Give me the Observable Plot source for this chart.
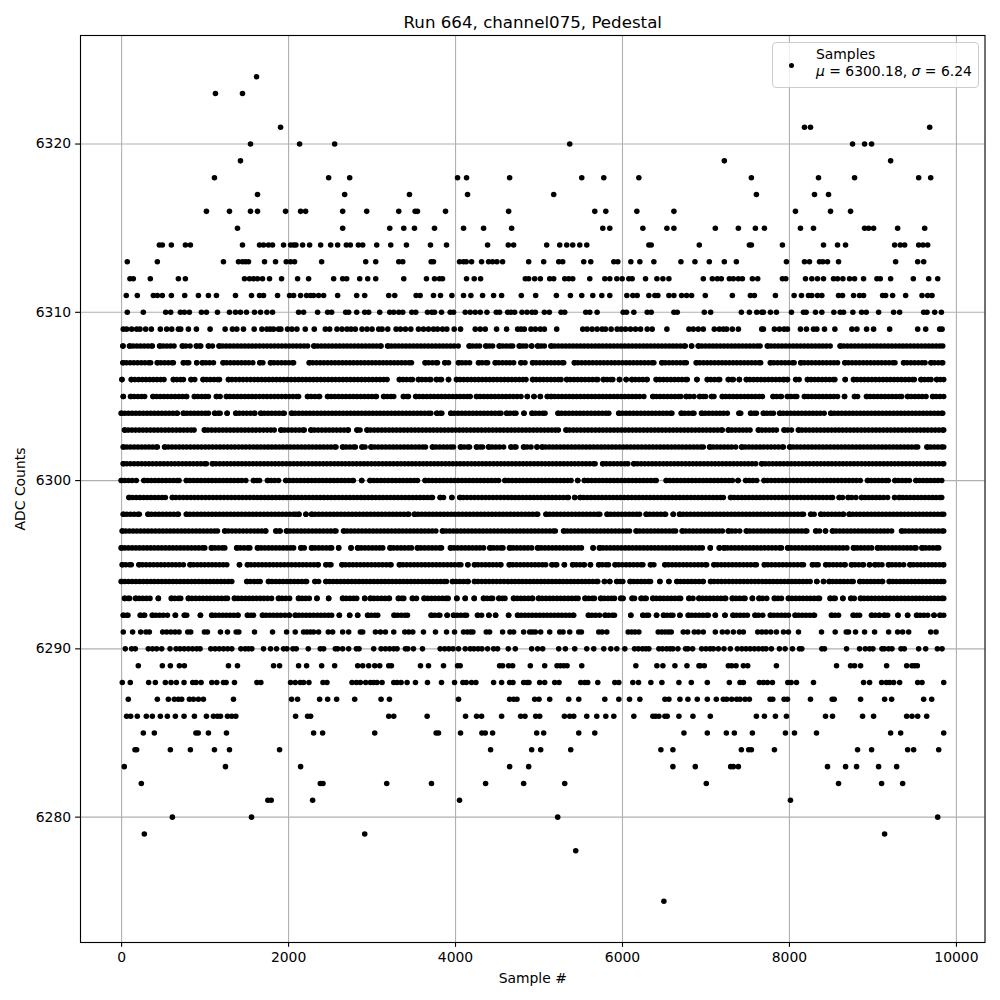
<!DOCTYPE html>
<html><head><meta charset="utf-8">
<script src="https://cdn.jsdelivr.net/npm/d3@7"></script>
<script src="https://cdn.jsdelivr.net/npm/@observablehq/plot@0.6"></script>
<style>
html,body{margin:0;padding:0;background:#fff}
#wrap{position:relative;width:1000px;height:1000px;font-family:"DejaVu Sans",sans-serif}
#legend{position:absolute;left:772px;top:42px;width:205px;height:44px;background:rgba(255,255,255,.8);border:1px solid #ccc;border-radius:4px;font-size:13.9px;color:#000;line-height:17px}
#legend .m{position:absolute;left:15.5px;top:19.5px;width:5.6px;height:5.6px;border-radius:50%;background:#000}
#legend .t{position:absolute;left:43px;top:3px;white-space:pre}
</style></head><body><div id="wrap"><div id="chart"></div>
<div id="legend"><span class="m"></span><div class="t">Samples
<i>μ</i> = 6300.18, <i>σ</i> = 6.24</div></div></div>
<script>
const chartTitle="Run 664, channel075, Pedestal";
const xLabel="Sample #";
const yLabel="ADC Counts";
const xTicks=[0,2000,4000,6000,8000,10000];
const yTicks=[6280,6290,6300,6310,6320];

// Isolated samples on the sparse ADC levels
const s6324=[1616];
const s6323=[1124,1448];
const s6321=[1904,8180,8252,9680];
const s6320=[1544,2132,2552,5368,8756,8900,8984];
const s6319=[1424,7220,9212];
const s6318=[1112,2480,2732,4024,4132,4648,5512,5776,6196,7544,8348,8780,9548,9692];
const s6317=[1628,2672,3448,4144,5176,7604,8300,8468];
const s6316=[1016,1292,1544,1628,1964,2144,2204,2648,2936,3320,3516,3544,3880,4636,5668,5800,6172,6616,8072,8492,8732];
const s6315=[1388,2648,3212,3380,3508,3748,4096,4336,4672,5764,5848,6244,6532,6616,7112,7388,7592,7700,8132,8288,8900,8948,9008,9296,9620];
const s6314=[452,488,596,764,824,1448,1652,1700,1760,1808,1940,2024,2060,2088,2168,2252,2384,2504,2588,2692,2740,2836,2888,3056,3224,3412,3700,3892,4384,4632,4696,5092,5248,5332,5404,5488,5572,6316,6344,6920,7520,7544,7916,8408,8576,8672,9260,9328,9380,9548,9600,9656];
const s6313=[68,428,1220,1400,1448,1484,1520,1712,1844,1972,2024,2072,2396,2924,3044,3320,3368,3708,3736,4048,4096,4128,4192,4312,4396,4444,4496,4564,4876,5056,5236,5284,5536,5620,5896,5944,6100,6208,6376,6700,6868,7040,7220,7364,7964,8180,8240,8360,8400,8456,8588,9272,9536,9608];
const s6312=[100,140,344,680,764,1472,1532,1580,1628,1688,1772,1916,2108,2240,2540,2648,2696,2852,2948,3044,3380,3652,3748,3808,3844,4132,4224,4300,4836,4876,4948,5016,5128,5176,5308,5356,5404,5608,5788,5848,5932,5996,6076,6116,6276,6412,6484,6556,6968,7076,7136,7184,7280,7328,7388,7436,7556,7620,7916,7956,8192,8268,8336,8408,8528,8576,8640,8720,8780,8888,9048,9088,9212,9484,9668,9776];
const s6311=[56,188,380,428,488,596,756,920,1040,1136,1364,1556,1652,1700,1868,2012,2060,2144,2216,2264,2300,2360,2420,2588,2816,2912,3200,3272,3528,3576,3736,3820,3956,4096,4184,4324,4456,4552,4788,4960,5208,5376,5512,5644,5752,5848,6052,6124,6176,6316,6388,6424,6556,6616,6708,6768,6828,6992,7316,7532,7580,7832,8056,8144,8228,8268,8336,8388,8588,8636,8768,8840,8888,9116,9152,9236,9392,9588,9656,9708];
const s6310=[68,260,528,588,704,752,812,956,1016,1148,1292,1364,1424,1496,1592,1664,1740,1808,2120,2180,2348,2468,2516,2684,2720,2816,2912,2960,3092,3212,3260,3320,3368,3476,3524,3664,3716,3748,3832,3936,3976,4116,4176,4236,4296,4376,4488,4528,4624,4664,4708,4796,4856,4916,4956,5064,5124,5264,5308,5560,5608,5696,6008,6048,6136,6296,6344,6616,6656,6980,7056,7424,7520,7608,7668,7688,7772,7844,8024,8168,8200,8312,8388,8532,8608,8648,8760,8864,8920,9068,9248,9320,9608,9648,9740,9820];
const s6309=[20,60,120,180,220,288,356,464,540,600,680,708,800,896,1060,1240,1328,1380,1460,1588,1680,1740,1780,1820,1880,1908,1988,2040,2100,2200,2308,2440,2492,2580,2640,2700,2748,2800,2880,2940,3000,3080,3120,3188,3288,3340,3400,3464,3556,3616,3676,3736,3784,3844,3896,3984,4060,4236,4296,4356,4492,4612,4744,4784,4824,4904,4956,5016,5064,5212,5524,5576,5636,5696,5756,5796,5864,5936,5984,6036,6096,6156,6216,6296,6356,6532,6796,6848,6908,6968,7100,7160,7208,7248,7316,7388,7668,7688,7820,7880,7936,7976,8132,8204,8288,8328,8420,8544,8748,8808,8924,9008,9200,9536,9632,9800,9828];
const s6291=[20,132,228,292,332,492,540,590,640,688,792,828,992,1028,1184,1268,1372,1404,1592,1808,1976,2080,2180,2220,2260,2300,2360,2476,2528,2648,2720,2860,2888,3040,3100,3160,3260,3392,3440,3488,3616,3760,3892,3988,4096,4140,4180,4208,4368,4408,4564,4652,4696,4816,4888,4920,4956,5020,5128,5248,5288,5368,5476,5508,5716,5756,5812,6068,6110,6150,6196,6428,6470,6510,6550,6584,6728,6780,6860,6908,6968,7112,7196,7256,7328,7400,7448,7620,7670,7720,7776,7844,7928,7988,8108,8384,8548,8680,8708,8792,8900,9020,9188,9296,9356,9428,9692,9756];
const s6290=[44,120,164,320,370,420,480,580,652,700,750,800,850,900,940,1068,1120,1170,1220,1270,1320,1428,1480,1520,1560,1700,1784,1856,1940,1980,2052,2092,2236,2380,2420,2560,2588,2648,2720,2812,2844,3020,3108,3160,3210,3260,3300,3400,3428,3496,3604,3816,3870,3920,3970,4036,4116,4176,4220,4270,4316,4384,4456,4504,4632,4716,4912,4984,5044,5236,5316,5428,5572,5656,5776,5860,5932,6028,6144,6190,6240,6280,6316,6436,6480,6530,6570,6604,6664,6756,6784,6840,6948,7000,7050,7088,7148,7216,7292,7376,7430,7480,7530,7580,7630,7680,7720,7784,7880,7948,8036,8120,8148,8388,8420,8684,8840,8908,8960,9000,9108,9136,9188,9228,9336,9376,9548,9632,9772,9828];
const s6289=[200,488,584,692,752,1280,1388,1820,1892,2120,2216,2396,2552,2828,2888,2960,3032,3092,3200,3232,3580,3676,3856,4024,4056,4528,4564,4636,4684,4896,5068,5216,5256,5296,5336,5512,6160,6412,6484,6628,6772,6916,6932,6980,7268,7308,7360,7448,7500,7844,8564,8732,8780,8852,9164,9404,9468,9500,9532];
const s6288=[8,104,324,404,524,592,656,748,852,892,952,1080,1140,1220,1252,1352,1620,1668,2024,2080,2140,2180,2244,2412,2460,2760,2812,2860,2924,2980,3020,3060,3120,3260,3300,3348,3420,3520,3664,3832,3988,4088,4128,4192,4244,4456,4552,4648,4688,4816,4856,4880,5008,5068,5188,5240,5500,5548,5584,5704,5908,5956,6124,6192,6340,6472,6676,6824,7016,7280,7408,7448,7640,7688,7736,7796,7980,8020,8084,8288,8888,8960,9104,9160,9200,9248,9320,9536,9588,9848];
const s6287=[80,428,560,632,680,720,812,860,920,980,1340,2036,2108,2372,2468,2576,2792,3108,3208,4036,4648,4696,4736,4948,5000,5128,5356,5476,5788,5956,6084,6208,6508,6556,6688,6784,6896,7016,7124,7208,7248,7308,7368,7408,7468,7520,7768,7800,7936,7976,8252,8512,8536,8852,9140,9224,9608,9704];
const s6286=[60,108,188,296,368,464,548,644,748,872,1016,1100,1148,1184,1268,1320,1368,2084,2228,2264,3200,3260,3660,4120,4252,4312,4552,4780,4832,4960,5008,5304,5368,5416,5572,5692,5800,5896,6136,6364,6396,6436,6508,6536,6676,6844,7052,7604,7700,7832,7964,8432,8516,8876,9008,9404,9468,9536,9644];
const s6285=[260,392,890,918,1040,1256,2300,2408,3032,3768,3796,4060,4316,4356,4444,4972,5056,5476,5668,6736,7016,7244,7340,7556,7952,8060,8324,9212,9332,9848];
const s6284=[160,180,584,824,1112,1292,1892,4420,4912,5020,5380,6460,6604,7424,7512,7544,7820,8816,8984,9416,9488,9788];
const s6283=[32,1244,2144,4648,4876,6604,6872,7296,7328,7388,8456,8672,8804,9068,9284];
const s6282=[236,2380,2412,3176,3712,4360,4816,5308,7004,8588,9104,9356];
const s6281=[1752,1792,2288,4048,8012];
const s6280=[608,1556,5224,9776];
const s6279=[272,2912,9140];
const s6278=[5440];
const s6275=[6496];

// Stretches of the dense ADC levels where the samples merge into a band: [first, last]
const r6308=[[16,16],[100,368],[460,628],[732,820],[900,948],[1044,1088],[1172,2228],[2308,3108],[3192,4032],[4168,4288],[4368,4444],[4528,4684],[4768,4844],[4912,4912],[4988,5064],[5148,6752],[6828,6828],[6912,7648],[7740,8488],[8612,9836]];
const r6307=[[20,348],[432,620],[744,804],[900,900],[972,1100],[1220,1572],[1660,1692],[1788,2060],[2252,3472],[3640,3784],[3876,3916],[4040,4168],[4280,4384],[4480,4696],[4788,4832],[4928,5296],[5428,6376],[6476,6764],[6888,7656],[7776,8056],[8140,8576],[8668,9264],[9372,9624],[9700,9836]];
const r6306=[[4,4],[120,508],[624,740],[836,876],[980,1172],[1284,3180],[3332,3484],[3560,3704],[3776,3832],[3916,3916],[4016,4844],[4928,5264],[5336,5704],[5776,5884],[5964,5964],[6044,6044],[6116,6296],[6408,6776],[6892,6892],[7020,7164],[7272,7328],[7400,7400],[7488,7936],[7976,7976],[8080,8116],[8220,8544],[8668,8668],[8772,9496],[9580,9696],[9768,9848]];
const r6305=[[20,20],[112,276],[380,780],[876,1040],[1140,1180],[1260,2120],[2232,2372],[2472,3052],[3144,3260],[3380,3436],[3528,4176],[4256,4784],[4860,4860],[4940,4940],[5016,5016],[5100,5100],[5148,6256],[6368,6700],[6768,6856],[6928,6996],[7072,7096],[7200,7676],[7808,7904],[7980,8088],[8184,8576],[8660,8660],[8784,8816],[8928,9344],[9420,9636],[9720,9848]];
const r6304=[[0,668],[744,1040],[1120,1180],[1264,1264],[1372,1596],[1672,1948],[2040,3704],[3780,3836],[3948,4544],[4616,4724],[4820,4820],[4920,5072],[5232,5836],[5960,6592],[6708,6856],[6952,7256],[7400,7416],[7540,7604],[7692,7808],[7888,8416],[8500,9836]];
const r6303=[[40,868],[996,1828],[1912,2188],[2272,2716],[2824,2856],[2944,5232],[5328,7196],[7272,7528],[7632,7844],[7940,8024],[8112,9848]];
const r6302=[[24,428],[520,2568],[2652,2800],[2884,2916],[2992,3640],[3728,3976],[4064,4168],[4256,4324],[4400,4576],[4668,4724],[4820,4904],[4976,4976],[5040,6968],[7048,7356],[7432,7928],[8008,9536],[9652,9848]];
const r6301=[[24,1016],[1092,5672],[5768,6064],[6140,7596],[7672,9848]];
const r6300=[[0,176],[272,688],[780,1488],[1584,1652],[1752,1880],[1972,2776],[2876,2876],[2980,3544],[3640,4516],[4596,5384],[5464,5464],[5548,6404],[6528,7316],[7384,7384],[7480,7608],[7700,8848],[8940,9184],[9268,9436],[9520,9824]];
const r6299=[[92,524],[612,3724],[3820,3856],[3956,3956],[4056,5352],[5428,5428],[5496,7208],[7300,8516],[8600,8636],[8708,8796],[8868,9176],[9260,9260],[9320,9824]];
const r6298=[[24,212],[320,680],[780,2088],[2124,2124],[2208,2208],[2280,3440],[3512,4984],[5088,5728],[5820,6204],[6288,6516],[6608,6608],[6688,8168],[8260,8296],[8380,8648],[8720,9848]];
const r6297=[[12,1148],[1240,1728],[1852,1900],[1980,2568],[2664,3764],[3848,5196],[5300,6084],[6168,6636],[6720,7196],[7272,7404],[7488,8208],[8320,8360],[8432,8432],[8520,9224],[9348,9848]];
const r6296=[[0,996],[1080,1236],[1384,1536],[1632,2060],[2152,2188],[2280,2516],[2600,2600],[2748,2748],[2832,3128],[3220,3472],[3548,3832],[3944,4336],[4416,4568],[4652,4912],[4988,5508],[5648,5648],[5728,6956],[7052,7052],[7160,7160],[7220,7904],[7984,8688],[8772,8984],[9060,9516],[9592,9788]];
const r6295=[[12,116],[212,740],[824,1260],[1412,1412],[1512,2356],[2452,2508],[2644,3228],[3332,4064],[4148,4148],[4232,4544],[4648,5080],[5160,5212],[5304,5304],[5408,5544],[5616,5616],[5720,5832],[5916,6244],[6340,6376],[6512,7008],[7100,7604],[7704,8168],[8280,8344],[8440,8668],[8748,8888],[8960,8960],[9028,9108],[9192,9368],[9448,9848]];
const r6294=[[0,1320],[1504,1660],[1764,2216],[2320,2360],[2452,3892],[3968,4152],[4232,5704],[5784,5784],[5848,5848],[5936,6004],[6096,6336],[6448,6448],[6556,6556],[6656,6968],[7060,8248],[8328,8328],[8408,8408],[8480,8764],[8848,9116],[9200,9848]];
const r6293=[[40,96],[172,340],[440,440],[600,708],[804,1268],[1356,1796],[1884,2012],[2124,2248],[2340,2340],[2480,2480],[2652,2816],[2912,2912],[2984,3208],[3320,3380],[3488,3532],[3628,3912],[4016,4016],[4116,4116],[4224,4224],[4340,4444],[4524,4592],[4700,4924],[5000,5468],[5556,5664],[5744,5904],[5984,6008],[6120,6144],[6228,6284],[6368,6696],[6800,6844],[6920,7236],[7320,7468],[7556,7556],[7640,7728],[7824,7904],[7992,8360],[8492,8548],[8640,8640],[8740,8776],[8856,9848]];
const r6292=[[24,76],[228,276],[372,548],[644,644],[756,780],[944,944],[1084,1396],[1512,1580],[1692,1956],[2008,2008],[2084,2516],[2608,2608],[2732,2732],[2828,2828],[2952,3068],[3268,3424],[3712,3812],[3900,3900],[3980,4132],[4268,4312],[4400,4400],[4480,4480],[4636,4636],[4748,5416],[5596,5724],[5796,5904],[6100,6100],[6248,6312],[6408,6408],[6496,6604],[6688,6688],[6792,7028],[7112,7112],[7228,7228],[7328,7496],[7592,7680],[7776,7988],[8072,8300],[8508,8588],[8768,8840],[8988,9028],[9076,9076],[9140,9176],[9300,9300],[9416,9416],[9528,9656],[9732,9732],[9808,9848]];

const sampleRows=[[6324,s6324],[6323,s6323],[6321,s6321],[6320,s6320],[6319,s6319],[6318,s6318],[6317,s6317],[6316,s6316],[6315,s6315],[6314,s6314],[6313,s6313],[6312,s6312],[6311,s6311],[6310,s6310],[6309,s6309],[6291,s6291],[6290,s6290],[6289,s6289],[6288,s6288],[6287,s6287],[6286,s6286],[6285,s6285],[6284,s6284],[6283,s6283],[6282,s6282],[6281,s6281],[6280,s6280],[6279,s6279],[6278,s6278],[6275,s6275]];
const runRows=[[6308,r6308],[6307,r6307],[6306,r6306],[6305,r6305],[6304,r6304],[6303,r6303],[6302,r6302],[6301,r6301],[6300,r6300],[6299,r6299],[6298,r6298],[6297,r6297],[6296,r6296],[6295,r6295],[6294,r6294],[6293,r6293],[6292,r6292]];

const allRuns=runRows.flatMap(([adc,rs])=>rs.map(([first,last])=>({first,last,adc})));
const runs=allRuns.filter(d=>d.first!==d.last);
const points=sampleRows.flatMap(([adc,xs])=>xs.map(sample=>({sample,adc})))
  .concat(allRuns.flatMap(d=>[{sample:d.first,adc:d.adc},{sample:d.last,adc:d.adc}]));

const chart=Plot.plot({
  width:1000,height:1000,
  marginLeft:80,marginRight:15.5,marginTop:35,marginBottom:58,
  style:{fontFamily:'"DejaVu Sans",sans-serif',fontSize:"13.9px",background:"#fff",color:"#000"},
  x:{domain:[-492.5,10342.5]},
  y:{domain:[6272.55,6326.45]},
  marks:[
    Plot.gridX(xTicks,{stroke:"#b0b0b0",strokeOpacity:1,strokeWidth:1.11}),
    Plot.gridY(yTicks,{stroke:"#b0b0b0",strokeOpacity:1,strokeWidth:1.11}),
    Plot.ruleY(runs,{y:"adc",x1:"first",x2:"last",stroke:"#000",strokeWidth:5.56,strokeLinecap:"round",strokeDasharray:"0 3.7"}),
    Plot.dot(points,{x:"sample",y:"adc",r:2.78,fill:"#000",stroke:"none"}),
    Plot.frame({stroke:"#000",strokeWidth:1.11}),
    Plot.axisX(xTicks,{tickSize:4.86,tickPadding:4.5,tickFormat:d=>String(d),fontSize:13.9,label:xLabel,labelAnchor:"center",labelArrow:"none",labelOffset:40,stroke:"#000",strokeWidth:1.11}),
    Plot.axisY(yTicks,{tickSize:4.86,tickPadding:4.5,tickFormat:d=>String(d),fontSize:13.9,label:yLabel,labelAnchor:"center",labelArrow:"none",labelOffset:65,stroke:"#000",strokeWidth:1.11}),
    Plot.text([chartTitle],{frameAnchor:"top",dy:-19,fontSize:16.67,fill:"#000"})
  ]
});
document.getElementById("chart").appendChild(chart);
</script></body></html>
